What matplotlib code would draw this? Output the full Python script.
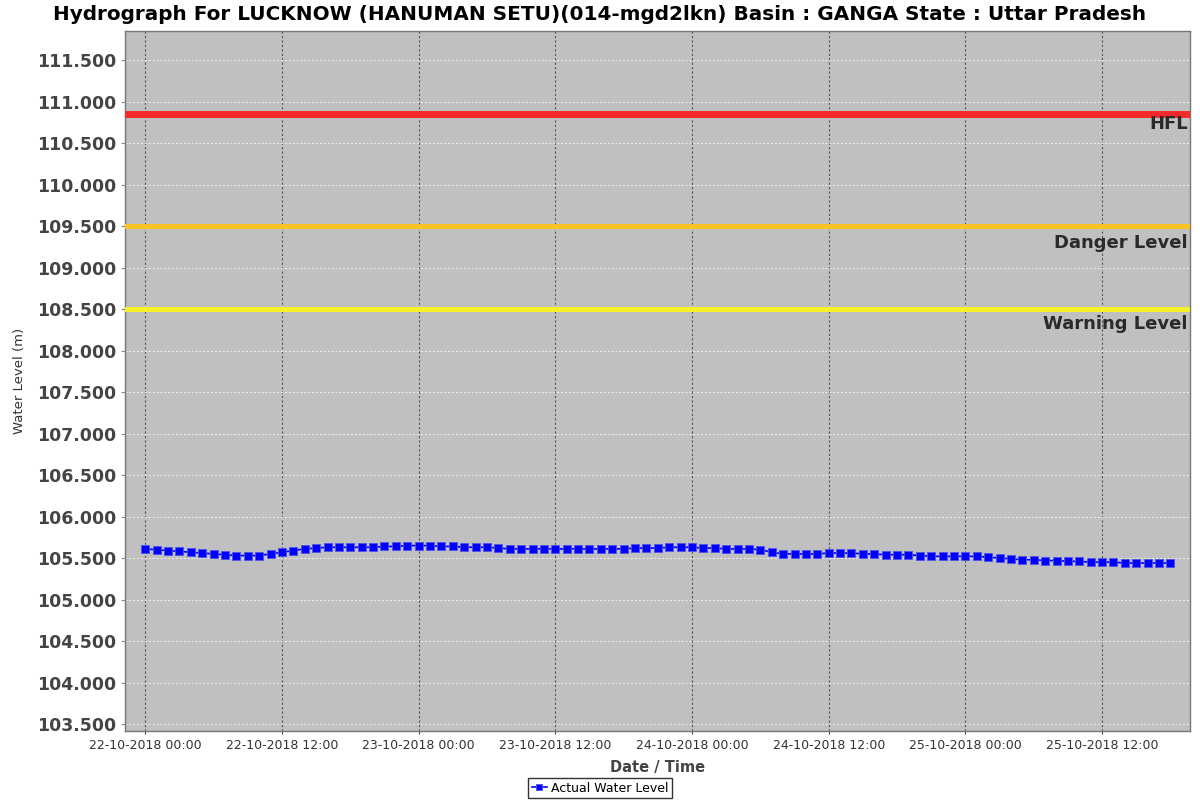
import matplotlib
matplotlib.use("Agg")
import matplotlib.pyplot as plt
import matplotlib.dates as mdates
import pandas as pd

title = "Hydrograph For LUCKNOW (HANUMAN SETU)(014-mgd2lkn) Basin : GANGA State : Uttar Pradesh"
start_time = "2018-10-22 00:00"
water_level = [
    105.61, 105.60, 105.59, 105.58, 105.57, 105.56, 105.55, 105.54, 105.53, 105.53,
    105.53, 105.55, 105.57, 105.59, 105.61, 105.62, 105.63, 105.63, 105.63, 105.63,
    105.63, 105.64, 105.64, 105.65, 105.65, 105.65, 105.64, 105.64, 105.63, 105.63,
    105.63, 105.62, 105.61, 105.61, 105.61, 105.61, 105.61, 105.61, 105.61, 105.61,
    105.61, 105.61, 105.61, 105.62, 105.62, 105.62, 105.63, 105.63, 105.63, 105.62,
    105.62, 105.61, 105.61, 105.61, 105.60, 105.57, 105.55, 105.55, 105.55, 105.55,
    105.56, 105.56, 105.56, 105.55, 105.55, 105.54, 105.54, 105.54, 105.53, 105.52,
    105.52, 105.52, 105.52, 105.52, 105.51, 105.50, 105.49, 105.48, 105.48, 105.47,
    105.47, 105.46, 105.46, 105.45, 105.45, 105.45, 105.44, 105.44, 105.44, 105.44,
    105.44,
]
times = pd.date_range(start_time, periods=len(water_level), freq="h")

level_names = ["HFL", "Danger Level", "Warning Level"]
level_values = [110.85, 109.50, 108.50]
level_colors = ["#F42A2A", "#F7C325", "#F6F22A"]
level_widths = [5.0, 3.6, 3.6]
label_offsets = [-1.0, -5.4, -4.3]

y_ticks = [103.5 + 0.5 * i for i in range(17)]

fig = plt.figure(figsize=(12, 8), dpi=100)
ax = fig.add_axes([125 / 1200, 1 - 731 / 800, 1065 / 1200, 700 / 800])
ax.set_facecolor("#C0C0C0")

x0 = pd.Timestamp(start_time)
ax.set_xlim(x0 - pd.Timedelta(hours=1.78), x0 + pd.Timedelta(hours=91.72))
ax.set_ylim(103.416, 111.85)

for name, val, col, lw, off in zip(level_names, level_values, level_colors, level_widths, label_offsets):
    ax.axhline(val, color=col, linewidth=lw, zorder=3)
    ax.annotate(name, xy=(1.0, val), xycoords=("axes fraction", "data"),
                xytext=(-1.5, off), textcoords="offset points", ha="right", va="top",
                fontsize=13, fontweight="bold", color="#2a2a2a", zorder=4)

ax.plot(times, water_level, color="#0000FF", linewidth=1.2, marker="s",
        markersize=5.6, markeredgecolor="#5050F0", markeredgewidth=0.6, zorder=5,
        label="Actual Water Level")

ax.set_yticks(y_ticks)
ax.set_yticklabels([f"{v:.3f}" for v in y_ticks], fontsize=12.5, fontweight="bold", color="#444444")
ax.xaxis.set_major_locator(mdates.HourLocator(byhour=[0, 12]))
ax.xaxis.set_major_formatter(mdates.DateFormatter("%d-%m-%Y %H:%M"))
ax.tick_params(axis="x", labelsize=9, colors="#444444", length=2, labelcolor="#333333")
ax.tick_params(axis="y", length=3, colors="#888888", labelcolor="#444444")

ax.grid(axis="y", color="#F0F0F0", linestyle=(0, (2, 2)), linewidth=0.7)
ax.grid(axis="x", color="#555555", linestyle=(0, (2, 2)), linewidth=0.8)
ax.set_axisbelow(True)
for s in ax.spines.values():
    s.set_color("#777777")
    s.set_linewidth(1.0)

ax.set_xlabel("Date / Time", fontsize=10.5, fontweight="bold", color="#444444", labelpad=6)
ax.set_ylabel("Water Level (m)", fontsize=9.5, color="#333333", labelpad=8)

fig.suptitle(title, fontsize=14.4, fontweight="bold", x=0.5, y=0.994, va="top")

leg = fig.legend(loc="center", bbox_to_anchor=(0.5, 1 - 788 / 800), fontsize=9,
                 frameon=True, fancybox=False, edgecolor="black", borderpad=0.3,
                 handlelength=1.2, handletextpad=0.3, markerscale=0.8)
leg.get_frame().set_linewidth(1.0)

fig.savefig("out.png", dpi=100)
